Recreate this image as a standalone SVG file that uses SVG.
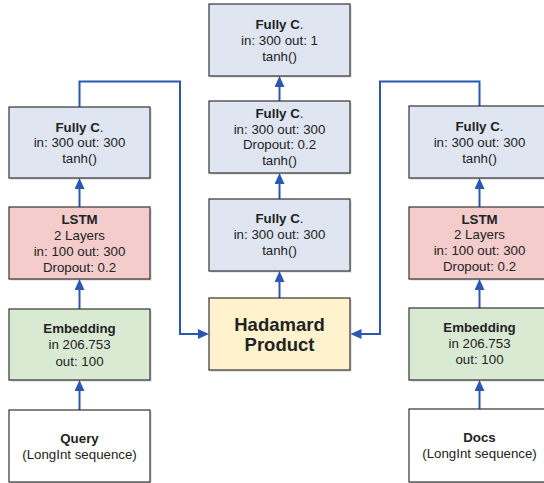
<svg xmlns="http://www.w3.org/2000/svg" width="544" height="483" viewBox="0 0 544 483">
<defs>
<marker id="ah" viewBox="0 0 11 10" refX="7" refY="5" markerWidth="11" markerHeight="10" orient="auto" markerUnits="userSpaceOnUse">
<path d="M0,0 L11,5 L0,10 z" fill="#2b57b3"/>
</marker>
</defs>
<style>
.box{stroke:#333;stroke-width:1.2}
.sh{fill:#000;opacity:0.18}
.fc{fill:#dfe5f1}
.ls{fill:#f4cccc}
.em{fill:#d9ead3}
.hp{fill:#fff2cc}
.wh{fill:#fff}
text{font-family:"Liberation Sans",Arial,sans-serif;font-size:13.3px;fill:#222;text-anchor:middle}
.b{font-weight:bold}
.big{font-size:18.5px;font-weight:bold}
.c{fill:none;stroke:#2b57b3;stroke-width:2}
</style>
<rect width="544" height="483" fill="#fff"/>
<g id="connectors">
<path class="c" d="M79.5,410 V384" marker-end="url(#ah)"/>
<path class="c" d="M79.5,309 V283" marker-end="url(#ah)"/>
<path class="c" d="M79.5,207 V182" marker-end="url(#ah)"/>
<path class="c" d="M279.5,298 V275" marker-end="url(#ah)"/>
<path class="c" d="M279.5,199 V177" marker-end="url(#ah)"/>
<path class="c" d="M279.5,101 V80" marker-end="url(#ah)"/>
<path class="c" d="M479.5,409 V384" marker-end="url(#ah)"/>
<path class="c" d="M479.5,308 V283" marker-end="url(#ah)"/>
<path class="c" d="M479.5,207 V182" marker-end="url(#ah)"/>
<path class="c" d="M79.5,107 V81.5 H180 V334 H205" marker-end="url(#ah)"/>
<path class="c" d="M479.5,106 V81.5 H380 V334 H354.5" marker-end="url(#ah)"/>
</g>
<g id="fc_left">
<rect class="sh" x="10.5" y="108.5" width="141" height="71"/>
<rect class="box fc" x="9" y="107" width="141" height="71"/>
<text x="79.5" y="131.5"><tspan class="b">Fully C</tspan>.</text>
<text x="79.5" y="147">in: 300 out: 300</text>
<text x="79.5" y="163">tanh()</text>
</g>
<g id="lstm_left">
<rect class="sh" x="10.5" y="208.5" width="141" height="72"/>
<rect class="box ls" x="9" y="207" width="141" height="72"/>
<text class="b" x="79.5" y="224">LSTM</text>
<text x="79.5" y="240">2 Layers</text>
<text x="79.5" y="255.7">in: 100 out: 300</text>
<text x="79.5" y="271.5">Dropout: 0.2</text>
</g>
<g id="emb_left">
<rect class="sh" x="10.5" y="310.5" width="141" height="71"/>
<rect class="box em" x="9" y="309" width="141" height="71"/>
<text class="b" x="79.5" y="333.3">Embedding</text>
<text x="79.5" y="349.3">in 206.753</text>
<text x="79.5" y="365.5">out: 100</text>
</g>
<g id="query">
<rect class="sh" x="10.5" y="411.5" width="141" height="72"/>
<rect class="box wh" x="9" y="410" width="141" height="72"/>
<text class="b" x="79.5" y="442.7">Query</text>
<text x="79.5" y="459">(LongInt sequence)</text>
</g>
<g id="fc_out">
<rect class="sh" x="210.5" y="5.5" width="141" height="72"/>
<rect class="box fc" x="209" y="4" width="141" height="72"/>
<text x="279.5" y="29.3"><tspan class="b">Fully C</tspan>.</text>
<text x="279.5" y="45">in: 300 out: 1</text>
<text x="279.5" y="61">tanh()</text>
</g>
<g id="fc_mid">
<rect class="sh" x="210.5" y="102.5" width="141" height="72"/>
<rect class="box fc" x="209" y="101" width="141" height="72"/>
<text x="279.5" y="118.3"><tspan class="b">Fully C</tspan>.</text>
<text x="279.5" y="133.5">in: 300 out: 300</text>
<text x="279.5" y="149.3">Dropout: 0.2</text>
<text x="279.5" y="165">tanh()</text>
</g>
<g id="fc_low">
<rect class="sh" x="210.5" y="200.5" width="141" height="72"/>
<rect class="box fc" x="209" y="199" width="141" height="72"/>
<text x="279.5" y="223.3"><tspan class="b">Fully C</tspan>.</text>
<text x="279.5" y="239.3">in: 300 out: 300</text>
<text x="279.5" y="255">tanh()</text>
</g>
<g id="hadamard">
<rect class="sh" x="210.5" y="299.5" width="141" height="72"/>
<rect class="box hp" x="209" y="298" width="141" height="72"/>
<text class="big" x="279.5" y="330.5">Hadamard</text>
<text class="big" x="279.5" y="351">Product</text>
</g>
<g id="fc_right">
<rect class="sh" x="410.5" y="107.5" width="141" height="72"/>
<rect class="box fc" x="409" y="106" width="141" height="72"/>
<text x="479.5" y="131"><tspan class="b">Fully C</tspan>.</text>
<text x="479.5" y="146.7">in: 300 out: 300</text>
<text x="479.5" y="162.7">tanh()</text>
</g>
<g id="lstm_right">
<rect class="sh" x="410.5" y="208.5" width="141" height="72"/>
<rect class="box ls" x="409" y="207" width="141" height="72"/>
<text class="b" x="479.5" y="223.5">LSTM</text>
<text x="479.5" y="239.3">2 Layers</text>
<text x="479.5" y="255.3">in: 100 out: 300</text>
<text x="479.5" y="271.2">Dropout: 0.2</text>
</g>
<g id="emb_right">
<rect class="sh" x="410.5" y="309.5" width="141" height="72"/>
<rect class="box em" x="409" y="308" width="141" height="72"/>
<text class="b" x="479.5" y="332">Embedding</text>
<text x="479.5" y="348">in 206.753</text>
<text x="479.5" y="364">out: 100</text>
</g>
<g id="docs">
<rect class="sh" x="410.5" y="410.5" width="141" height="73"/>
<rect class="box wh" x="409" y="409" width="141" height="73"/>
<text class="b" x="479.5" y="441.7">Docs</text>
<text x="479.5" y="457.7">(LongInt sequence)</text>
</g>
</svg>
